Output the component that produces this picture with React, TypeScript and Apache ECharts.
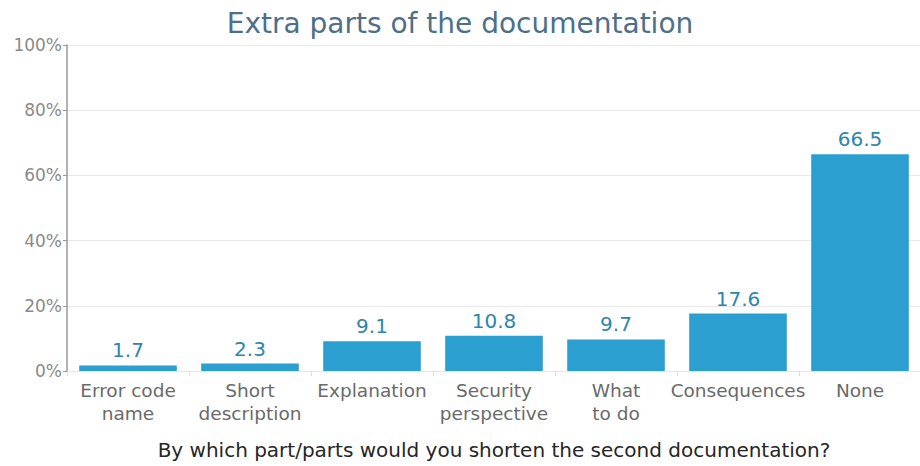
import React, { useEffect, useRef } from "react";
import * as echarts from "echarts";

const categories = [
  "Error code\nname",
  "Short\ndescription",
  "Explanation",
  "Security\nperspective",
  "What\nto do",
  "Consequences",
  "None",
];
const values = [1.7, 2.3, 9.1, 10.8, 9.7, 17.6, 66.5];
const yTicks = [0, 20, 40, 60, 80, 100];

const FONT = "'DejaVu Sans', sans-serif";

export default function App() {
  const ref = useRef<HTMLDivElement>(null);
  useEffect(() => {
    if (!ref.current) return;
    const chart = echarts.init(ref.current, undefined, { renderer: "svg" });
    chart.setOption({
      animation: false,
      title: {
        text: "Extra parts of the documentation",
        left: "center",
        top: 4,
        textStyle: { fontFamily: FONT, fontSize: 28, fontWeight: "normal", color: "#4d7088" },
      },
      grid: { left: 67, right: -1, top: 45, bottom: 95, containLabel: false, outerBoundsMode: "none" },
      xAxis: {
        type: "category",
        data: categories,
        name: "By which part/parts would you shorten the second documentation?",
        nameLocation: "middle",
        nameGap: 69,
        nameTextStyle: { fontFamily: FONT, fontSize: 20, color: "#262626" },
        axisLine: { show: true, lineStyle: { color: "#e6e6e6" } },
        axisTick: { show: true, length: 5, lineStyle: { color: "#ddd" } },
        axisLabel: {
          interval: 0,
          margin: 8,
          fontFamily: FONT,
          fontSize: 18.5,
          color: "#6a6a6a",
          lineHeight: 23,
        },
      },
      yAxis: {
        type: "value",
        min: 0,
        max: 100,
        interval: 20,
        axisLine: { show: true, lineStyle: { color: "#999", width: 1.5 } },
        axisTick: { show: true, length: 4, lineStyle: { color: "#999" } },
        axisLabel: {
          fontFamily: FONT,
          fontSize: 17,
          color: "#8a8a8a",
          margin: 5,
          formatter: (v: number) => (yTicks.includes(v) ? v + "%" : ""),
        },
        splitLine: { show: true, lineStyle: { color: "#e8e8e8" } },
      },
      series: [
        {
          type: "bar",
          data: values,
          barCategoryGap: "20%",
          itemStyle: { color: "#2b9fcf" },
          label: {
            show: true,
            position: "top",
            distance: 5,
            fontFamily: FONT,
            fontSize: 20,
            color: "#2c86ad",
            formatter: (p: any) => p.value.toFixed(1),
          },
        },
      ],
    });
    return () => chart.dispose();
  }, []);
  return <div ref={ref} style={{ width: 920, height: 466, position: "absolute", left: 0, top: 0 }} />;
}
